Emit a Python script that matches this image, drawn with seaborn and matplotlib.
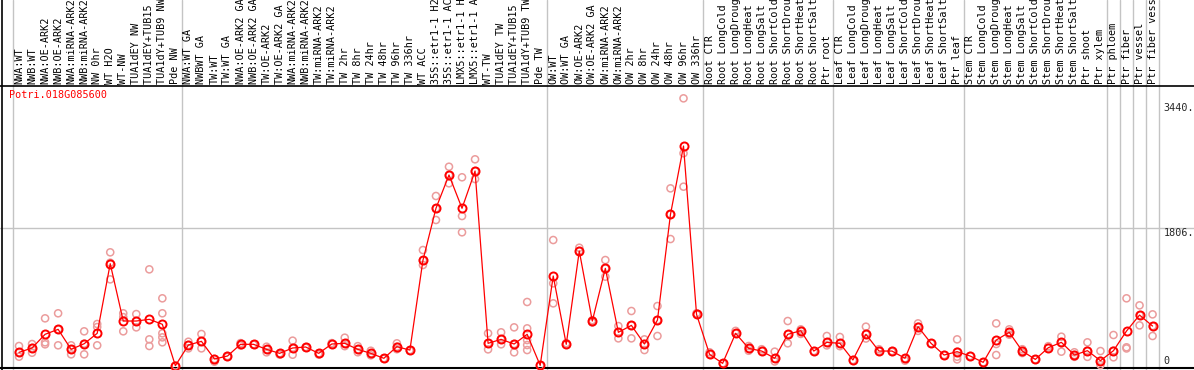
import numpy as np
import pandas as pd
import matplotlib
matplotlib.use("Agg")
import matplotlib.pyplot as plt
import seaborn as sns

gene = "Potri.018G085600"

labels = [
    "NWA:WT", "NWB:WT", "NWA:OE-ARK2", "NWB:OE-ARK2", "NWA:miRNA-ARK2", "NWB:miRNA-ARK2",
    "NW 0hr", "WT H2O", "WT-NW", "TUA1dEY NW", "TUA1dEY+TUB15 NW", "TUA1dY+TUB9 NW", "Pde NW",
    "NWA:WT GA", "NWBWT GA", "TW:WT", "TW:WT GA", "NWA:OE-ARK2 GA", "NWB:OE-ARK2 GA",
    "TW:OE-ARK2", "TW:OE-ARK2 GA", "NWA:miRNA-ARK2", "NWB:miRNA-ARK2", "TW:miRNA-ARK2",
    "TW:miRNA-ARK2", "TW 2hr", "TW 8hr", "TW 24hr", "TW 48hr", "TW 96hr", "TW 336hr", "WT ACC",
    "35S::etr1-1 H2O", "35S::etr1-1 ACC", "LMX5::etr1-1 H2O", "LMX5::etr1-1 ACC", "WT-TW",
    "TUA1dEY TW", "TUA1dEY+TUB15 TW", "TUA1dY+TUB9 TW", "Pde TW",
    "OW:WT", "OW:WT GA", "OW:OE-ARK2", "OW:OE-ARK2 GA", "OW:miRNA-ARK2", "OW:miRNA-ARK2",
    "OW 2hr", "OW 8hr", "OW 24hr", "OW 48hr", "OW 96hr", "OW 336hr",
    "Root CTR", "Root LongCold", "Root LongDrought", "Root LongHeat", "Root LongSalt",
    "Root ShortCold", "Root ShortDrought", "Root ShortHeat", "Root ShortSalt", "Ptr root",
    "Leaf CTR", "Leaf LongCold", "Leaf LongDrought", "Leaf LongHeat", "Leaf LongSalt",
    "Leaf ShortCold", "Leaf ShortDrought", "Leaf ShortHeat", "Leaf ShortSalt", "Ptr leaf",
    "Stem CTR", "Stem LongCold", "Stem LongDrought", "Stem LongHeat", "Stem LongSalt",
    "Stem ShortCold", "Stem ShortDrought", "Stem ShortHeat", "Stem ShortSalt", "Ptr shoot",
    "Ptr xylem", "Ptr phloem", "Ptr fiber", "Ptr vessel", "Ptr fiber vessel",
]

# sample count per group (separators are drawn between groups)
group_sizes = [13, 28, 12, 10, 10, 11, 1, 1, 1, 1]

means = [
    179, 236, 415, 480, 218, 292, 428, 1339, 589, 589, 611, 546, 4,
    275, 323, 92, 131, 284, 284, 218, 166, 236, 249, 166, 288, 297, 218, 166, 101, 253, 209,
    1383, 2064, 2500, 2064, 2552, 297, 349, 288, 415, 8,
    1178, 284, 1505, 589, 1278, 441, 532, 288, 602, 1985, 2879, 676,
    153, 35, 428, 231, 196, 101, 415, 462, 196, 310,
    297, 79, 415, 196, 196, 101, 515, 297, 144, 188,
    131, 48, 340, 441, 196, 87, 240, 310, 144, 201, 70,
    201, 458, 667, 523,
]

replicates = [
    [262, 179, 122], [288, 236, 174], [624, 310, 284], [690, 480, 271], [271, 218, 153],
    [454, 292, 153], [550, 510, 271], [1488, 1352, 1134], [690, 640, 454], [680, 589, 506],
    [1265, 349, 262], [886, 690, 428, 375, 310], [4, 4],
    [318, 275, 231], [419, 323, 231], [92, 57], [131, 120], [300, 284, 270], [284, 280],
    [253, 218, 179], [166, 150], [332, 236, 148], [249, 240], [166, 150], [300, 288],
    [371, 297, 260], [260, 218, 180], [200, 166, 140], [101, 95], [297, 253, 220], [209, 200],
    [1518, 1383, 1322], [2225, 2064, 1911], [2608, 2500, 2391], [2470, 1963, 1750],
    [2705, 2552, 2447], [428, 297, 218], [441, 349, 284], [506, 288, 179],
    [838, 493, 340, 275, 209], [8],
    [1649, 1082, 820], [300, 284], [1548, 1505], [600, 589, 570], [1387, 1278, 1169],
    [523, 441, 362], [720, 532, 362], [349, 288, 209], [785, 602, 393], [2325, 1985, 1662],
    [3503, 2784, 2347], [690, 676],
    [180, 153], [35], [460, 428], [262, 231, 200], [220, 196], [188, 101, 60],
    [589, 415, 297], [480, 462, 420], [196], [393, 310, 270],
    [380, 297, 260], [79], [515, 415, 360], [220, 196], [196, 185], [101, 70],
    [558, 515, 460], [297], [144], [349, 188, 122, 87],
    [131], [48], [558, 288, 144], [480, 441, 410], [220, 196, 170], [87], [260, 240],
    [384, 310, 188], [180, 144, 120], [310, 201, 120], [196, 70, 13],
    [406, 201, 114], [886, 245, 230], [794, 667, 532], [676, 523, 393],
]

ytick_values = [0, 1806, 3440]
ytick_labels = ["0", "1806.", "3440."]

mono = "DejaVu Sans Mono"

df_mean = pd.DataFrame({"idx": np.arange(len(means)), "value": means})
rep_rows = [(i, v) for i, reps in enumerate(replicates) for v in reps]
df_rep = pd.DataFrame(rep_rows, columns=["idx", "value"])

sns.set_style("white")
fig = plt.figure(figsize=(11.94, 3.70), dpi=100)
ax = fig.add_axes([0, 0, 1, 1])

plot_top = 3664
ax.set_xlim(-1.46, 90.18)
ax.set_ylim(-52, 4790)
for s in ax.spines.values():
    s.set_visible(False)
ax.set_xticks([])
ax.set_yticks([])

# group separators
bounds = np.cumsum([0] + group_sizes) - 0.5
for b in bounds:
    ax.axvline(b, color="#c4c4c4", lw=1, zorder=0)
ax.axhline(1806, color="#c4c4c4", lw=1, zorder=0)
ax.axhline(plot_top, color="black", lw=1.2, zorder=1)
ax.axhline(-26, color="black", lw=1.5, zorder=1)
ax.axvline(-1.34, color="black", lw=1.2, zorder=1)

sns.scatterplot(data=df_rep, x="idx", y="value", ax=ax, marker="o", s=26,
                facecolors="none", edgecolor="#eb9c9c", linewidth=1.1, zorder=2,
                legend=False)
sns.lineplot(data=df_mean, x="idx", y="value", ax=ax, color="red", lw=0.9,
             marker="o", markersize=5.8, markerfacecolor="none",
             markeredgecolor="red", markeredgewidth=1.4, zorder=3, legend=False)
ax.set_xlabel("")
ax.set_ylabel("")

for i, lab in enumerate(labels):
    ax.text(i, plot_top + 25, lab, rotation=90, ha="center", va="bottom",
            fontsize=7.3, family=mono, color="black")

ax.text(-0.75, 3550, gene, color="red", fontsize=7.3, family=mono, va="center", ha="left")

tick_va = {"0": "bottom", "1806.": "top", "3440.": "top"}
for v, lab in zip(ytick_values, ytick_labels):
    ax.text(87.85, v, lab, fontsize=7.3, family=mono, ha="left", va=tick_va[lab])

fig.savefig("out.png", dpi=100)
